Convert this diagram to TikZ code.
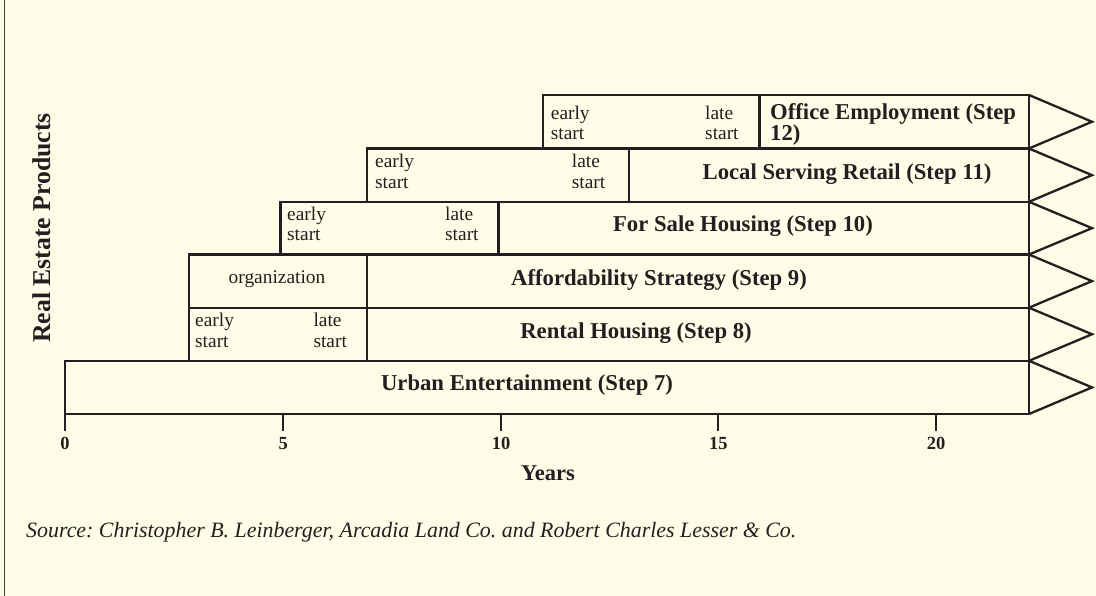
\documentclass[tikz,border=0pt]{standalone}
\usepackage{fontspec}
\setmainfont{Liberation Serif}
\definecolor{bg}{RGB}{255,253,232}
\definecolor{ink}{RGB}{35,31,32}
\newcommand{\twolines}[5]{%
  \node[sml, anchor=base west] (#1a) at (#2,#3) {#4};
  \node[sml, anchor=base west] (#1b) at (#2,#3+20.7) {#5};}
\frenchspacing
\begin{document}
\begin{tikzpicture}[x=1pt, y=-1pt,
  bar/.style={draw=ink, line width=2.3pt, line join=miter},
  ttl/.style={font=\fontsize{22.7}{24}\selectfont\bfseries, text=ink, inner sep=0pt},
  sml/.style={font=\fontsize{19.4}{21}\selectfont, text=ink, inner sep=0pt},
  ticklab/.style={font=\fontsize{18.5}{20}\selectfont\bfseries, text=ink, inner sep=0pt, anchor=base},
  frame/.style={draw=ink!85, line width=1.4pt}]
\useasboundingbox (0,0) rectangle (1096,596);
\fill[bg] (0,0) rectangle (1096,596);
\draw[frame] (4.5,0) -- (4.5,596);

% bars: left, top, bottom, divider
\foreach \l/\t/\b/\d in {542.7/95/148.5/759.5, 366.7/148.5/201.8/628.7, 280.5/201.8/254.5/498.5,
                         189/254.5/307.7/367, 189/307.7/360.8/367}{
  \draw[bar] (\l,\t) rectangle (1029,\b);
  \draw[bar] (\d,\t) -- (\d,\b);
}
\draw[bar] (65,360.8) rectangle (1029,414);

% arrow heads
\foreach \t/\b in {95/148.5, 148.5/201.8, 201.8/254.5, 254.5/307.7, 307.7/360.8, 360.8/414}{
  \draw[bar] (1029,\t) -- (1092,{(\t+\b)/2}) -- (1029,\b);
}

% axis ticks
\foreach \x/\v in {65/0, 283.3/5, 501/10, 718.3/15, 936/20}{
  \draw[bar] (\x,414) -- (\x,431);
  \node[ticklab] (t\v) at (\x,449.5) {\v};
}

% titles
\node[ttl, anchor=base west] (off1) at (770,119.3) {Office Employment (Step};
\node[ttl, anchor=base west] (off2) at (770,140.3) {12)};
\node[ttl, anchor=base] (loc) at (847,179.5) {Local Serving Retail (Step 11)};
\node[ttl, anchor=base] (sal) at (743,232) {For Sale Housing (Step 10)};
\node[ttl, anchor=base] (aff) at (659,285.5) {Affordability Strategy (Step 9)};
\node[ttl, anchor=base] (ren) at (636,338.5) {Rental Housing (Step 8)};
\node[ttl, anchor=base] (urb) at (527,390.8) {Urban Entertainment (Step 7)};

% small labels
\twolines{oe}{550.7}{119.3}{early}{start}
\twolines{ol}{705}{119.3}{late}{start}
\twolines{le}{375}{168}{early}{start}
\twolines{ll}{571.7}{168}{late}{start}
\twolines{se}{287}{220.3}{early}{start}
\twolines{sl}{445}{220.3}{late}{start}
\node[sml, anchor=base] (org) at (277,283.3) {organization};
\twolines{re}{195}{326.5}{early}{start}
\twolines{rl}{313.3}{326.5}{late}{start}

% axis titles
\node[font=\fontsize{25.7}{27}\selectfont\bfseries, text=ink, inner sep=0pt, rotate=90, anchor=base] (ylab) at (50,228) {Real Estate Products};
\node[font=\fontsize{22.5}{24}\selectfont\bfseries, text=ink, inner sep=0pt, anchor=base] (xlab) at (548,480) {Years};

% source
\node[font=\fontsize{21.9}{24}\selectfont\itshape, text=ink, inner sep=0pt, anchor=base west] (src) at (26,537)
  {Source: Christopher B. Leinberger, Arcadia Land Co. and Robert Charles Lesser \& Co.};
\end{tikzpicture}
\end{document}
